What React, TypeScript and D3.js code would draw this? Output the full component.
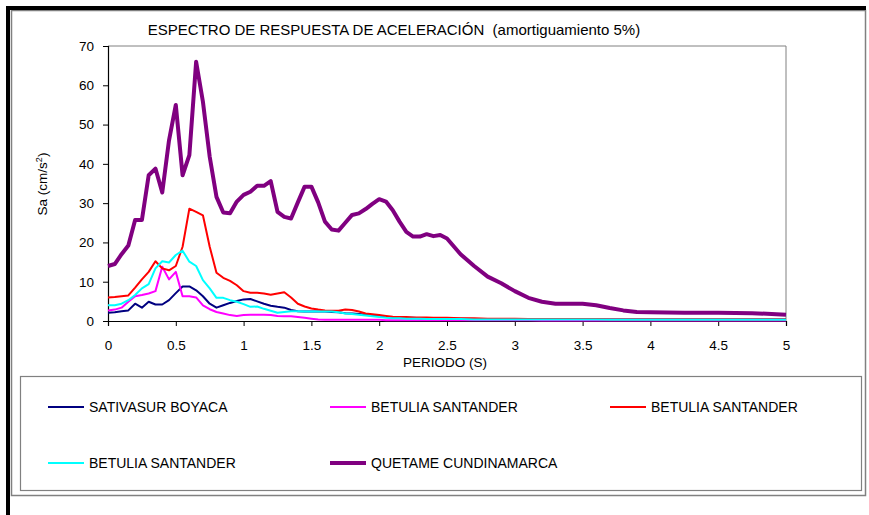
import * as d3 from 'd3';
import { useEffect, useRef } from 'react';

// periodo (s)
const periods = [
  0, 0.05, 0.1, 0.15, 0.2, 0.25, 0.3, 0.35, 0.4, 0.45,
  0.5, 0.55, 0.6, 0.65, 0.7, 0.75, 0.8, 0.85, 0.9, 0.95,
  1.0, 1.05, 1.1, 1.15, 1.2, 1.25, 1.3, 1.35, 1.4, 1.45,
  1.5, 1.55, 1.6, 1.65, 1.7, 1.75, 1.8, 1.85, 1.9, 1.95,
  2.0, 2.05, 2.1, 2.15, 2.2, 2.25, 2.3, 2.35, 2.4, 2.45,
  2.5, 2.6, 2.7, 2.8, 2.9, 3.0, 3.1, 3.2, 3.3, 3.4,
  3.5, 3.6, 3.7, 3.8, 3.9, 4.0, 4.25, 4.5, 4.75, 5.0,
];

const sativasur = [
  2.1, 2.2, 2.5, 2.7, 4.4, 3.4, 4.9, 4.2, 4.2, 5.3,
  7.1, 8.8, 8.8, 7.8, 6.3, 4.4, 3.4, 4.0, 4.6, 5.1,
  5.5, 5.6, 5.0, 4.4, 3.9, 3.6, 3.4, 2.8, 2.5, 2.4,
  2.4, 2.4, 2.4, 2.3, 2.2, 2.0, 1.9, 1.8, 1.6, 1.4,
  1.3, 1.1, 1.0, 0.9, 0.8, 0.8, 0.7, 0.7, 0.7, 0.6,
  0.6, 0.6, 0.5, 0.5, 0.5, 0.5, 0.5, 0.5, 0.5, 0.5,
  0.5, 0.4, 0.4, 0.4, 0.4, 0.4, 0.4, 0.4, 0.4, 0.4,
];

const betulia1 = [
  2.7, 2.9, 3.4, 4.9, 6.3, 6.6, 7.0, 7.6, 13.8, 10.6,
  12.5, 6.3, 6.3, 6.0, 4.0, 3.0, 2.3, 1.9, 1.5, 1.3,
  1.5, 1.6, 1.6, 1.6, 1.5, 1.3, 1.2, 1.2, 1.0, 0.8,
  0.6, 0.4, 0.3, 0.3, 0.3, 0.3, 0.3, 0.3, 0.3, 0.3,
  0.3, 0.2, 0.2, 0.2, 0.2, 0.2, 0.2, 0.2, 0.2, 0.2,
  0.2, 0.2, 0.2, 0.2, 0.2, 0.2, 0.2, 0.1, 0.1, 0.1,
  0.1, 0.1, 0.1, 0.1, 0.1, 0.1, 0.1, 0.1, 0.1, 0.1,
];

const betulia2 = [
  6.0, 6.1, 6.3, 6.5, 8.5, 10.6, 12.5, 15.2, 13.4, 12.9,
  14.0, 18.9, 28.6, 27.8, 26.9, 18.9, 12.3, 11.0, 10.2, 9.1,
  7.6, 7.2, 7.2, 7.0, 6.7, 7.0, 7.3, 6.0, 4.4, 3.7,
  3.2, 2.9, 2.7, 2.6, 2.6, 2.9, 2.8, 2.4, 1.9, 1.7,
  1.5, 1.3, 1.1, 1.0, 1.0, 0.9, 0.9, 0.9, 0.8, 0.8,
  0.8, 0.7, 0.7, 0.6, 0.6, 0.6, 0.5, 0.5, 0.5, 0.5,
  0.5, 0.5, 0.4, 0.4, 0.4, 0.4, 0.4, 0.4, 0.4, 0.4,
];

const betulia3 = [
  4.0, 4.0, 4.4, 5.3, 6.6, 8.3, 9.4, 13.4, 15.2, 14.9,
  16.8, 17.9, 15.1, 14.0, 10.4, 8.3, 5.9, 5.9, 5.3, 4.9,
  4.3, 3.6, 3.7, 3.1, 2.6, 2.1, 2.3, 2.5, 2.5, 2.4,
  2.4, 2.4, 2.4, 2.4, 2.2, 1.9, 1.8, 1.6, 1.4, 1.2,
  1.0, 0.8, 0.7, 0.7, 0.6, 0.6, 0.6, 0.5, 0.5, 0.5,
  0.5, 0.5, 0.4, 0.4, 0.4, 0.4, 0.4, 0.4, 0.4, 0.4,
  0.4, 0.4, 0.3, 0.3, 0.3, 0.3, 0.3, 0.3, 0.3, 0.3,
];

const quetame = [
  14.0, 14.5, 17.0, 19.2, 25.7, 25.7, 37.1, 38.8, 32.7, 46.0,
  55.0, 37.1, 42.2, 66.0, 55.8, 41.8, 31.6, 27.6, 27.4, 30.4,
  32.1, 32.9, 34.4, 34.4, 35.6, 27.8, 26.5, 26.1, 30.2, 34.2,
  34.2, 30.2, 25.3, 23.3, 23.0, 25.0, 27.0, 27.4, 28.5, 29.8,
  31.0, 30.4, 28.2, 25.3, 22.7, 21.5, 21.5, 22.1, 21.6, 21.9,
  21.0, 17.0, 14.0, 11.3, 9.6, 7.6, 5.9, 4.9, 4.4, 4.4,
  4.4, 4.0, 3.3, 2.7, 2.3, 2.2, 2.1, 2.1, 2.0, 1.6,
];

const seriesNames = [
  'SATIVASUR BOYACA',
  'BETULIA SANTANDER',
  'BETULIA SANTANDER',
  'BETULIA SANTANDER',
  'QUETAME CUNDINAMARCA',
];
const seriesValues = [sativasur, betulia1, betulia2, betulia3, quetame];
const seriesColors = ['#000080', '#ff00ff', '#ff0000', '#00ffff', '#800080'];
const seriesWidths = [2, 2, 2, 2, 4];

const xTicks = [0, 0.5, 1, 1.5, 2, 2.5, 3, 3.5, 4, 4.5, 5];
const yTicks = [0, 10, 20, 30, 40, 50, 60, 70];

const FONT = '"Liberation Sans", Arial, sans-serif';

export default function App() {
  const ref = useRef<SVGSVGElement>(null);
  const width = 869;
  const height = 515;

  useEffect(() => {
    const svg = d3.select(ref.current);
    svg.selectAll('*').remove();

    const plot = { left: 108, right: 786, top: 46, bottom: 321 };

    const x = d3.scaleLinear().domain([0, 5]).range([plot.left, plot.right]);
    const y = d3.scaleLinear().domain([0, 70]).range([plot.bottom, plot.top]);

    svg.append('rect').attr('width', width).attr('height', height).attr('fill', '#fff');

    // outer frame
    svg.append('rect')
      .attr('x', 11.5).attr('y', 10.5)
      .attr('width', 854).attr('height', 485)
      .attr('fill', 'none').attr('stroke', '#808080').attr('stroke-width', 1.5);
    svg.append('rect').attr('x', 6).attr('y', 6).attr('width', 860).attr('height', 4).attr('fill', '#000');
    svg.append('rect').attr('x', 6).attr('y', 6).attr('width', 4).attr('height', 509).attr('fill', '#000');

    // title
    svg.append('text')
      .attr('x', 394).attr('y', 35)
      .attr('text-anchor', 'middle')
      .attr('xml:space', 'preserve')
      .style('font-family', FONT).style('font-size', '15px')
      .text('ESPECTRO DE RESPUESTA DE ACELERACIÓN  (amortiguamiento 5%)');

    // plot area border (top/right gray)
    svg.append('path')
      .attr('d', `M${plot.left},${plot.top}H${plot.right}V${plot.bottom}`)
      .attr('fill', 'none').attr('stroke', '#808080').attr('stroke-width', 1);

    // y axis
    const yAxis = svg.append('g')
      .attr('transform', `translate(${plot.left},0)`)
      .call(d3.axisLeft(y).tickValues(yTicks).tickSize(5).tickPadding(9).tickFormat(d3.format('d')));
    yAxis.select('.domain').attr('stroke', '#000').attr('stroke-width', 1.2);
    yAxis.selectAll('.tick line').attr('stroke', '#000');
    yAxis.selectAll('text').style('font-family', FONT).style('font-size', '13.5px').attr('fill', '#000');

    // x axis
    const xAxis = svg.append('g')
      .attr('transform', `translate(0,${plot.bottom})`)
      .call(d3.axisBottom(x).tickValues(xTicks).tickSize(5).tickPadding(14).tickFormat(d3.format('')));
    xAxis.select('.domain').attr('stroke', '#000').attr('stroke-width', 1.2);
    xAxis.selectAll('.tick line').attr('stroke', '#000');
    xAxis.selectAll('text').style('font-family', FONT).style('font-size', '13.5px').attr('fill', '#000');

    // axis titles
    svg.append('text')
      .attr('x', 445).attr('y', 367)
      .attr('text-anchor', 'middle')
      .style('font-family', FONT).style('font-size', '13.5px')
      .text('PERIODO (S)');

    const yLabel = svg.append('text')
      .attr('transform', 'translate(47,184) rotate(-90)')
      .attr('text-anchor', 'middle')
      .style('font-family', FONT).style('font-size', '13.5px');
    yLabel.append('tspan').text('Sa (cm/s');
    yLabel.append('tspan').attr('dy', -5).style('font-size', '9px').text('2');
    yLabel.append('tspan').attr('dy', 5).text(')');

    // lines
    const lines = svg.append('g');
    seriesValues.forEach((vals, i) => {
      const line = d3.line<number>()
        .x((_, j) => x(periods[j]))
        .y(d => y(d));
      lines.append('path')
        .datum(vals)
        .attr('d', line)
        .attr('fill', 'none')
        .attr('stroke', seriesColors[i])
        .attr('stroke-width', seriesWidths[i])
        .attr('stroke-linejoin', 'round');
    });

    // legend
    svg.append('rect')
      .attr('x', 20.5).attr('y', 376.5)
      .attr('width', 841).attr('height', 114)
      .attr('fill', 'none').attr('stroke', '#808080').attr('stroke-width', 1.2);

    const legendPos = [
      [48, 407], [330, 407], [610, 407],
      [48, 463], [330, 463],
    ];
    seriesNames.forEach((name, i) => {
      const [lx, ly] = legendPos[i];
      const g = svg.append('g').attr('transform', `translate(${lx},${ly})`);
      g.append('line')
        .attr('x1', 0).attr('x2', 36).attr('y1', 0).attr('y2', 0)
        .attr('stroke', seriesColors[i]).attr('stroke-width', seriesWidths[i]);
      g.append('text')
        .attr('x', 41).attr('y', 5)
        .style('font-family', FONT).style('font-size', '14px')
        .text(name);
    });

    return () => {
      svg.selectAll('*').remove();
    };
  }, []);

  return (
    <svg
      ref={ref}
      width={width}
      height={height}
      style={{ position: 'absolute', left: 0, top: 0, display: 'block' }}
    />
  );
}
